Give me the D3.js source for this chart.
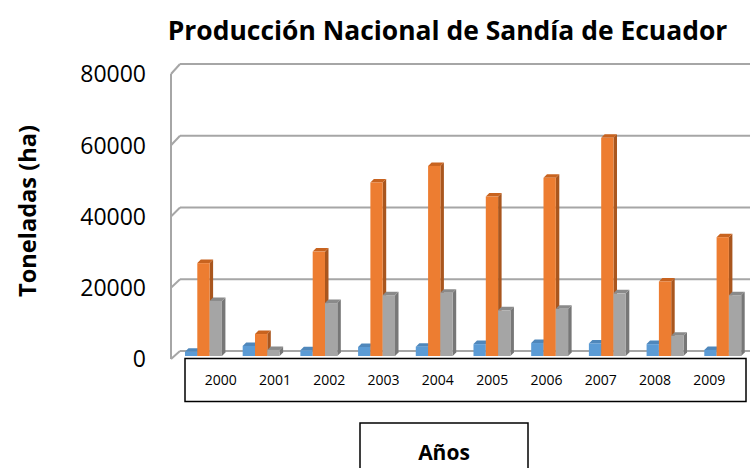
<!DOCTYPE html>
<html>
<head>
<meta charset="utf-8">
<script src="https://cdn.jsdelivr.net/npm/d3@7"></script>
<style>
  body { margin: 0; background: #fff; }
  svg { display: block; }
  text { font-family: "Open Sans", "Liberation Sans", sans-serif; fill: #000; }
</style>
</head>
<body>
<script>
// data
var years = ["2000", "2001", "2002", "2003", "2004", "2005", "2006", "2007", "2008", "2009"];
var series = ["s1", "s2", "s3"];
var blueValues = [1200, 2800, 1600, 2500, 2600, 3300, 3600, 3500, 3300, 1700];
var orangeValues = [25800, 6100, 29000, 48200, 52800, 44300, 49500, 60600, 20700, 33000];
var grayValues = [15300, 1700, 14700, 16900, 17600, 12700, 13100, 17400, 5600, 16900];
var yTicks = [0, 20000, 40000, 60000, 80000];

var W = 750, H = 468;
var depth = 3.5;

var colors = {
  s1: { front: "#5b9bd5", side: "#41719c", top: "#4f87bb" },
  s2: { front: "#ed7d31", side: "#a9561e", top: "#c8631f" },
  s3: { front: "#a5a5a5", side: "#777777", top: "#8a8a8a" }
};

var svg = d3.select("body").append("svg")
    .attr("width", W)
    .attr("height", H);

// scales
var yBack = d3.scaleLinear().domain([0, 80000]).range([351, 64]);
var yFront = d3.scaleLinear().domain([0, 80000]).range([359, 74]);
var yBar = d3.scaleLinear().domain([0, 80000]).range([356, 68]);

var x = d3.scaleBand().domain(years)
    .range([174.6, 751.6])
    .paddingInner(0.36)
    .paddingOuter(0.18);
var xSub = d3.scaleBand().domain(series).range([0, x.bandwidth()]);

var wallLeft = 180, frontLeft = 171;

// back wall gridlines
svg.append("g").selectAll("line")
  .data(yTicks)
  .enter().append("line")
    .attr("x1", wallLeft).attr("x2", W)
    .attr("y1", function(d) { return yBack(d); })
    .attr("y2", function(d) { return yBack(d); })
    .attr("stroke", "#a6a6a6")
    .attr("stroke-width", 2);

// diagonal side ticks from front axis to back wall
svg.append("g").selectAll("line")
  .data(yTicks)
  .enter().append("line")
    .attr("x1", frontLeft).attr("x2", wallLeft)
    .attr("y1", function(d) { return yFront(d); })
    .attr("y2", function(d) { return yBack(d); })
    .attr("stroke", "#a6a6a6")
    .attr("stroke-width", 2);

// left axis line
svg.append("line")
    .attr("x1", frontLeft).attr("x2", frontLeft)
    .attr("y1", yFront(80000)).attr("y2", yFront(0))
    .attr("stroke", "#a6a6a6")
    .attr("stroke-width", 2);

// tick labels
svg.append("g").selectAll("text")
  .data(yTicks)
  .enter().append("text")
    .attr("x", 146)
    .attr("y", function(d) { return yFront(d); })
    .attr("dy", "0.36em")
    .attr("text-anchor", "end")
    .style("font-size", "23px")
    .text(function(d) { return d; });

// bars
var rows = years.map(function(y, i) {
  return { year: y, vals: [
    { key: "s1", v: blueValues[i] },
    { key: "s2", v: orangeValues[i] },
    { key: "s3", v: grayValues[i] }
  ]};
});

var base = yBar(0);
var groups = svg.append("g").selectAll("g")
  .data(rows)
  .enter().append("g")
    .attr("transform", function(d) { return "translate(" + x(d.year) + ",0)"; });

var bar = groups.selectAll("g")
  .data(function(d) { return d.vals; })
  .enter().append("g");

bar.append("path")
    .attr("fill", function(d) { return colors[d.key].side; })
    .attr("d", function(d) {
      var x0 = xSub(d.key) + xSub.bandwidth(), y0 = yBar(d.v);
      return "M" + x0 + "," + y0 + "L" + (x0 + depth) + "," + (y0 - depth) +
             "L" + (x0 + depth) + "," + (base - depth) + "L" + x0 + "," + base + "Z";
    });
bar.append("path")
    .attr("fill", function(d) { return colors[d.key].top; })
    .attr("d", function(d) {
      var x0 = xSub(d.key), x1 = x0 + xSub.bandwidth(), y0 = yBar(d.v);
      return "M" + x0 + "," + y0 + "L" + (x0 + depth) + "," + (y0 - depth) +
             "L" + (x1 + depth) + "," + (y0 - depth) + "L" + x1 + "," + y0 + "Z";
    });
bar.append("rect")
    .attr("x", function(d) { return xSub(d.key); })
    .attr("y", function(d) { return yBar(d.v); })
    .attr("width", xSub.bandwidth())
    .attr("height", function(d) { return base - yBar(d.v); })
    .attr("fill", function(d) { return colors[d.key].front; });

// year box
svg.append("rect")
    .attr("x", 185).attr("y", 358.5)
    .attr("width", 561).attr("height", 43)
    .attr("fill", "#fff")
    .attr("stroke", "#000")
    .attr("stroke-width", 1.5);

var xLab = d3.scalePoint().domain(years).range([220.7, 709.3]);
svg.append("g").selectAll("text")
  .data(years)
  .enter().append("text")
    .attr("x", function(d) { return xLab(d); })
    .attr("y", 380)
    .attr("dy", "0.36em")
    .attr("text-anchor", "middle")
    .style("font-size", "14px")
    .text(function(d) { return d; });

// axis title box
svg.append("rect")
    .attr("x", 360).attr("y", 423)
    .attr("width", 168).attr("height", 60)
    .attr("fill", "#fff")
    .attr("stroke", "#000")
    .attr("stroke-width", 1.5);

svg.append("text")
    .attr("x", 444).attr("y", 460)
    .attr("text-anchor", "middle")
    .style("font-size", "21px")
    .style("font-weight", "bold")
    .text("Años");

// fit a text to a width by adjusting font size
function fit(sel, width) {
  var len = sel.node().getComputedTextLength();
  var fs = parseFloat(sel.style("font-size"));
  sel.style("font-size", (fs * width / len) + "px");
}

var title = svg.append("text")
    .attr("x", 447.5).attr("y", 40)
    .attr("text-anchor", "middle")
    .style("font-size", "24px")
    .style("font-weight", "bold")
    .text("Producción Nacional de Sandía de Ecuador");
fit(title, 560);

var ylab = svg.append("text")
    .attr("transform", "translate(36,211) rotate(-90)")
    .attr("text-anchor", "middle")
    .style("font-size", "20px")
    .style("font-weight", "bold")
    .text("Toneladas (ha)");
fit(ylab, 172);
</script>
</body>
</html>
